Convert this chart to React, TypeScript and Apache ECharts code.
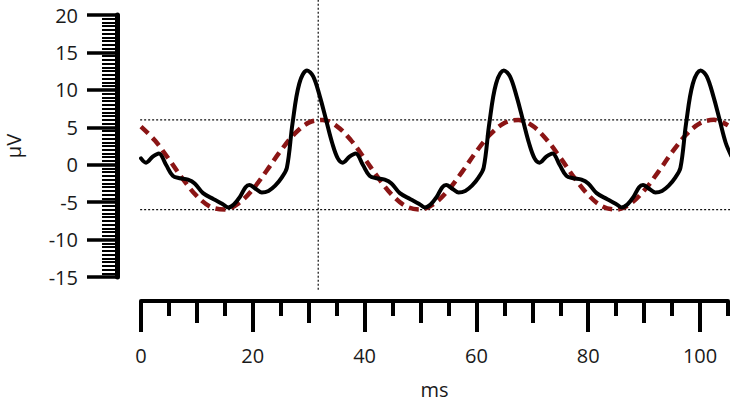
import React, { useEffect, useRef } from "react";
import * as echarts from "echarts";

// Measured signal (black, solid)
const blackTimes = [
  0, 0.9, 2.1, 3.2, 4.5, 5.7, 6.9, 8.4, 9.6, 11.1, 13, 14.5, 15.6, 16.6, 17.7, 18.7, 19.4, 20.3, 21.6, 22.8, 24, 25.2, 26.1, 27.1, 28.3, 29.7, 30.8, 32, 33.1, 34.2,
  35.2, 36.1, 37.3, 38.4, 39.7, 40.9, 42.1, 43.6, 44.8, 46.3, 48.2, 49.7, 50.8, 51.8, 52.9, 53.9, 54.6, 55.5, 56.8, 58.0, 59.2, 60.4, 61.3, 62.3, 63.5, 64.9, 66.0, 67.2, 68.3, 69.4,
  70.4, 71.3, 72.5, 73.6, 74.9, 76.1, 77.3, 78.8, 80.0, 81.5, 83.4, 84.9, 86.0, 87.0, 88.1, 89.1, 89.8, 90.7, 92.0, 93.2, 94.4, 95.6, 96.5, 97.5, 98.7, 100.1, 101.2, 102.4, 103.5, 104.6, 105.6,
];
const blackValues = [
  0.85, 0.27, 1.07, 1.5, -0.04, -1.5, -1.8, -2.0, -2.5, -3.8, -4.6, -5.2, -5.7, -5.3, -4.3, -3.0, -2.7, -3.1, -3.7, -3.5, -2.8, -1.7, -0.4, 5.5, 10.8, 12.6, 11.8, 9.1, 6.0, 2.9,
  0.85, 0.27, 1.07, 1.5, -0.04, -1.5, -1.8, -2.0, -2.5, -3.8, -4.6, -5.2, -5.7, -5.3, -4.3, -3.0, -2.7, -3.1, -3.7, -3.5, -2.8, -1.7, -0.4, 5.5, 10.8, 12.6, 11.8, 9.1, 6.0, 2.9,
  0.85, 0.27, 1.07, 1.5, -0.04, -1.5, -1.8, -2.0, -2.5, -3.8, -4.6, -5.2, -5.7, -5.3, -4.3, -3.0, -2.7, -3.1, -3.7, -3.5, -2.8, -1.7, -0.4, 5.5, 10.8, 12.6, 11.8, 9.1, 6.0, 2.9, 1.16,
];

// Fitted fundamental (dark red, dashed)
const redTimes = [
  0, 2.5, 5, 7.5, 10, 12.5, 15, 17.5, 20, 22.5, 25, 27.5, 30, 32.5, 35, 37.5, 40, 42.5, 45, 47.5, 50, 52.5,
  55, 57.5, 60, 62.5, 65, 67.5, 70, 72.5, 75, 77.5, 80, 82.5, 85, 87.5, 90, 92.5, 95, 97.5, 100, 102.5, 105,
];
const redValues = [
  5.1, 3.23, 0.72, -1.92, -4.2, -5.64, -5.97, -5.13, -3.28, -0.77, 1.87, 4.15, 5.62, 5.98, 5.16, 3.32, 0.82, -1.82, -4.11, -5.6, -5.98, -5.18,
  -3.36, -0.89, 1.78, 4.07, 5.58, 5.98, 5.21, 3.41, 0.94, -1.72, -4.04, -5.56, -5.99, -5.24, -3.45, -0.99, 1.67, 4.0, 5.54, 5.99, 5.26,
];

// Reference (dotted) lines
const hLineLevels = [6, -6];
const hLineSpan = [-2.3, 111];
const vLineTime = 31.7;
const vLineSpan = [-16.7, 22.5];

// Axes
const xRange = [0, 105];
const yRange = [-15, 20];
const xLabelTicks = [0, 20, 40, 60, 80, 100];
const xMidTicks = [10, 30, 50, 70, 90];
const xShortTicks = [5, 15, 25, 35, 45, 55, 65, 75, 85, 95, 105];
const yTickInterval = 5;
const xName = "ms";
const yName = "µV";

const FONT = "'Open Sans', 'Noto Sans', sans-serif";

export default function App() {
  const ref = useRef<HTMLDivElement>(null);
  useEffect(() => {
    if (!ref.current) return;
    const chart = echarts.init(ref.current, null, { renderer: "svg" });
    const zip = (a: number[], b: number[]) => a.map((v, i) => [v, b[i]]);
    const baseX = {
      type: "value",
      gridIndex: 0,
      position: "bottom",
      min: xRange[0],
      max: xRange[1],
      offset: 24,
      splitLine: { show: false },
      axisLine: { show: false, onZero: false },
      axisLabel: { show: false },
    };
    const option: any = {
      animation: false,
      backgroundColor: "#ffffff",
      grid: { left: 141, top: 15, width: 587, height: 262, outerBoundsMode: "none", containLabel: false },
      xAxis: [
        {
          ...baseX,
          axisLine: { show: true, onZero: false, lineStyle: { color: "#000", width: 4 } },
          axisTick: { show: true, length: 31, customValues: xLabelTicks, lineStyle: { color: "#000", width: 4 } },
          axisLabel: { show: true, customValues: xLabelTicks, margin: 44, fontSize: 20, color: "#1a1a1a", fontFamily: FONT },
          name: xName,
          nameLocation: "middle",
          nameGap: 78,
          nameTextStyle: { fontSize: 20, color: "#1a1a1a", fontFamily: FONT },
        },
        {
          ...baseX,
          axisTick: { show: true, length: 22, customValues: xMidTicks, lineStyle: { color: "#000", width: 4 } },
        },
        {
          ...baseX,
          axisTick: { show: true, length: 15, customValues: xShortTicks, lineStyle: { color: "#000", width: 4 } },
        },
      ],
      yAxis: [
        {
          type: "value",
          min: yRange[0],
          max: yRange[1],
          interval: yTickInterval,
          offset: 24,
          splitLine: { show: false },
          axisLine: { show: true, onZero: false, lineStyle: { color: "#000", width: 5 } },
          axisTick: { show: true, length: 30, lineStyle: { color: "#000", width: 3.5 } },
          minorTick: { show: true, splitNumber: 10, length: 15, lineStyle: { color: "#000", width: 2 } },
          minorSplitLine: { show: false },
          axisLabel: { margin: 39, fontSize: 20, color: "#1a1a1a", fontFamily: FONT },
          name: yName,
          nameLocation: "middle",
          nameGap: 94,
          nameTextStyle: { fontSize: 20, color: "#1a1a1a", fontFamily: FONT },
        },
      ],
      series: [
        ...hLineLevels.map((lv) => ({
          type: "line",
          xAxisIndex: 0,
          yAxisIndex: 0,
          clip: false,
          silent: true,
          symbol: "none",
          data: hLineSpan.map((x) => [x, lv]),
          lineStyle: { color: "#111", width: 1.2, type: [2, 2] },
        })),
        {
          type: "line",
          xAxisIndex: 0,
          yAxisIndex: 0,
          clip: false,
          silent: true,
          symbol: "none",
          data: vLineSpan.map((y) => [vLineTime, y]),
          lineStyle: { color: "#111", width: 1.2, type: [2, 2] },
        },
        {
          type: "line",
          xAxisIndex: 0,
          yAxisIndex: 0,
          clip: false,
          symbol: "none",
          smooth: 0.35,
          data: zip(redTimes, redValues),
          lineStyle: { color: "#8b1515", width: 4.5, type: [10, 6] },
        },
        {
          type: "line",
          xAxisIndex: 0,
          yAxisIndex: 0,
          clip: false,
          symbol: "none",
          smooth: 0.35,
          data: zip(blackTimes, blackValues),
          lineStyle: { color: "#000", width: 4, join: "round", cap: "round" },
        },
      ],
    };
    chart.setOption(option);
    return () => chart.dispose();
  }, []);
  return (
    <div
      ref={ref}
      style={{ position: "fixed", left: 0, top: 0, width: 750, height: 407, background: "#fff" }}
    />
  );
}
